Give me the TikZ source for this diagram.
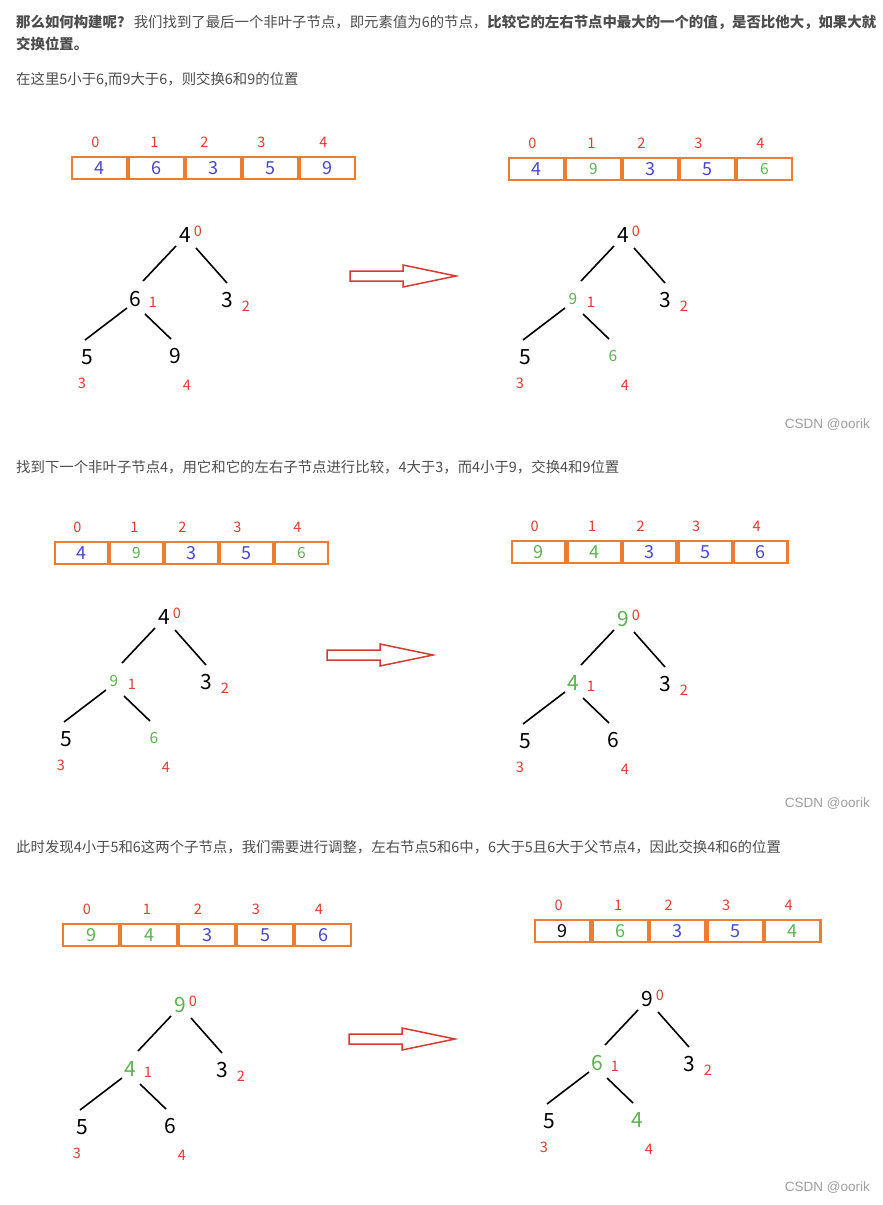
\documentclass[tikz,border=0pt]{standalone}
\usepackage{fontspec}
\setmainfont{Noto Sans CJK SC}
\newfontfamily\markfont{Liberation Sans}
\usetikzlibrary{positioning,calc}

\definecolor{heapred}{RGB}{224,62,50}
\definecolor{heapblue}{RGB}{72,72,206}
\definecolor{heapgreen}{RGB}{92,178,80}
\definecolor{heaporange}{RGB}{237,125,49}
\definecolor{textgray}{RGB}{77,77,77}

\tikzset{
  para/.style={anchor=west, inner sep=0pt, text=textgray, font=\fontsize{14.4}{17}\selectfont},
  wmark/.style={anchor=east, inner sep=0pt, text=black!38, font=\markfont\fontsize{13.5}{15}\selectfont},
  cell/.style={draw=heaporange, line width=2.2pt, minimum width={#1*1pt-2.2pt}, minimum height=22pt,
    inner sep=0pt, text=heapblue, font=\fontsize{18}{18}\selectfont},
  idx/.style={inner sep=0pt, text=heapred, font=\fontsize{14.5}{15}\selectfont},
  val/.style={inner sep=0pt, on grid, font=\fontsize{21}{21}\selectfont},
  treeline/.style={line width=1.6pt, black},
  bigarrow/.style={draw=heapred!95!black, line width=1.5pt, line join=miter}
}

\newcommand{\gs}[1]{{\color{heapgreen}\fontsize{15.5}{16}\selectfont#1}}
\newcommand{\gn}[1]{{\color{heapgreen}#1}}
\newcommand{\gk}[1]{{\color{black}#1}}

% name, left x, centre y, cell width, five values
\newcommand{\heaparray}[9]{%
  \node[cell=#4] (#10) at ({#2+#4/2},#3) {#5};
  \node[cell=#4, right=0pt of #10] (#11) {#6};
  \node[cell=#4, right=0pt of #11] (#12) {#7};
  \node[cell=#4, right=0pt of #12] (#13) {#8};
  \node[cell=#4, right=0pt of #13] (#14) {#9};
  \foreach \i/\dx in {0/-4,1/-2,2/-9,3/-9,4/-4}
    \node[idx] (#1i\i) at ($(#1\i)+(\dx,-26)$) {\i};
}

% name, root x, root y, five values
\newcommand{\heaptree}[8]{%
  \node[val] (#1a) at (#2,#3) {#4};
  \node[val, below left=64pt and 50pt of #1a] (#1b) {#5};
  \node[val, below right=65pt and 42pt of #1a] (#1c) {#6};
  \node[val, below left=58pt and 48pt of #1b] (#1d) {#7};
  \node[val, below right=57pt and 40pt of #1b] (#1e) {#8};
  \draw[treeline] ($(#1a)+(-9,11)$) -- ($(#1b)+(8,-18)$);
  \draw[treeline] ($(#1a)+(11,13)$) -- ($(#1c)+(0,-17)$);
  \draw[treeline] ($(#1b)+(-8,9)$) -- ($(#1d)+(-2,-17)$);
  \draw[treeline] ($(#1b)+(10,15)$) -- ($(#1e)+(-4,-17)$);
  \node[idx] (#1ia) at ($(#1a)+(13,-4)$) {0};
  \node[idx] (#1ib) at ($(#1b)+(18,3)$) {1};
  \node[idx] (#1ic) at ($(#1c)+(19,6)$) {2};
  \node[idx] (#1id) at ($(#1d)+(-5,26)$) {3};
  \node[idx] (#1ie) at ($(#1e)+(12,29)$) {4};
}

% tail x, centre y
\newcommand{\swaparrow}[2]{%
  \draw[bigarrow] (#1,#2-5) -- ++(53,0) -- ++(0,-6) -- ++(53,11) -- ++(-53,11) -- ++(0,-6) -- ++(-53,0) -- cycle;
}

\begin{document}
\begin{tikzpicture}[x=1pt, y=-1pt]
  \path[use as bounding box, fill=white] (0,0) rectangle (883,1205);

  % step 1
  \node[para] (p1) at (16,22) {\textbf{那么如何构建呢？}\,我们找到了最后一个非叶子节点，即元素值为6的节点，\textbf{比较它的左右节点中最大的一个的值，是否比他大，如果大就}};
  \node[para] (p2) at (16,44) {\textbf{交换位置。}};
  \node[para] (p3) at (16,80) {在这里5小于6,而9大于6，则交换6和9的位置};
  \heaparray{a1}{71}{168}{57}{4}{6}{3}{5}{9}
  \heaparray{a2}{508}{169}{57}{4}{\gs{9}}{3}{5}{\gs{6}}
  \heaptree{t1}{185}{235}{4}{6}{3}{5}{9}
  \swaparrow{350}{276}
  \heaptree{t2}{623}{235}{4}{\gs{9}}{3}{5}{\gs{6}}
  \node[wmark] (w1) at (870,425) {CSDN @oorik};

  % step 2
  \node[para] (p4) at (16,467) {找到下一个非叶子节点4，用它和它的左右子节点进行比较，4大于3，而4小于9，交换4和9位置};
  \heaparray{a3}{54}{553}{55}{4}{\gs{9}}{3}{5}{\gs{6}}
  \heaparray{a4}{511}{552}{55.5}{\gn{9}}{\gn{4}}{3}{5}{6}
  \heaptree{t3}{164}{617}{4}{\gs{9}}{3}{5}{\gs{6}}
  \swaparrow{327}{655}
  \heaptree{t4}{623}{619}{\gn{9}}{\gn{4}}{3}{5}{6}
  \node[wmark] (w2) at (870,804) {CSDN @oorik};

  % step 3
  \node[para] (p5) at (16,847) {此时发现4小于5和6这两个子节点，我们需要进行调整，左右节点5和6中，6大于5且6大于父节点4，因此交换4和6的位置};
  \heaparray{a5}{62}{935}{58}{\gn{9}}{\gn{4}}{3}{5}{6}
  \heaparray{a6}{534}{931}{57.5}{\gk{9}}{\gn{6}}{3}{5}{\gn{4}}
  \heaptree{t5}{180}{1005}{\gn{9}}{\gn{4}}{3}{5}{6}
  \swaparrow{349}{1039}
  \heaptree{t6}{647}{999}{9}{\gn{6}}{3}{5}{\gn{4}}
  \node[wmark] (w3) at (870,1188) {CSDN @oorik};
\end{tikzpicture}
\end{document}
